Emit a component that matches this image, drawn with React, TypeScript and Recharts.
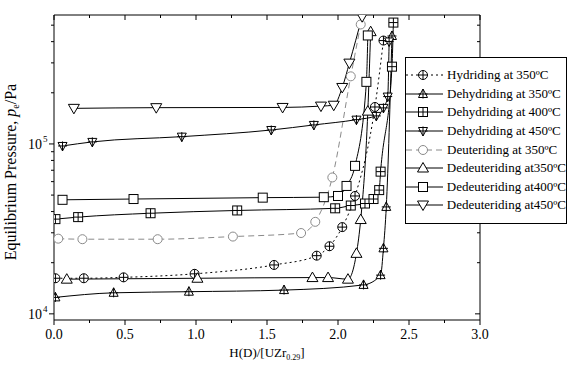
import React from 'react';
import { LineChart, Line, XAxis, YAxis, Legend } from 'recharts';

// ---- data ----
const hyd350X = [0.01, 0.21, 0.49, 0.99, 1.55, 1.85, 1.94, 2.03, 2.12, 2.26, 2.32];
const hyd350P = [16200, 16200, 16400, 17200, 19400, 22000, 25000, 32400, 49400, 165000, 406000];

const dehyd350X = [0.01, 0.42, 0.95, 1.62, 2.18, 2.30, 2.32, 2.34, 2.38];
const dehyd350P = [12500, 13300, 13500, 13800, 14800, 16900, 24300, 42600, 432000];

const dehyd400X = [0.01, 0.17, 0.68, 1.29, 1.98, 2.09, 2.19, 2.25, 2.29, 2.30, 2.38, 2.39];
const dehyd400P = [36100, 37100, 39100, 40600, 41800, 43400, 44600, 47400, 53500, 68700, 285000, 518000];

const dehyd450X = [0.06, 0.27, 0.90, 1.53, 1.83, 2.13, 2.27, 2.32, 2.35, 2.36];
const dehyd450P = [97300, 102800, 110400, 120800, 129400, 139000, 146200, 163000, 190000, 401000];

const deut350X = [0.03, 0.20, 0.73, 1.26, 1.74, 1.84, 1.96, 2.09, 2.16];
const deut350P = [27700, 27500, 27500, 28500, 29900, 34800, 63500, 250000, 505000];

const dedeut350X = [0.09, 1.01, 1.82, 1.93, 2.07, 2.13, 2.16, 2.21, 2.23];
const dedeut350P = [16000, 16200, 16350, 16350, 16000, 22700, 35900, 156000, 458000];

const dedeut400X = [0.06, 0.56, 1.47, 1.90, 2.00, 2.06, 2.12, 2.20, 2.21];
const dedeut400P = [46900, 47400, 48300, 48600, 49400, 56600, 74300, 232000, 435000];

const dedeut450X = [0.14, 0.72, 1.61, 1.88, 1.97, 2.03, 2.08, 2.17];
const dedeut450P = [162000, 163500, 164000, 167000, 169000, 215000, 299000, 561000];

const xTicks = [0, 0.25, 0.5, 0.75, 1, 1.25, 1.5, 1.75, 2, 2.25, 2.5, 2.75, 3];
const yTicks = [10000, 20000, 30000, 40000, 50000, 60000, 70000, 80000, 90000, 100000, 200000, 300000, 400000, 500000];
const yDomain: [number, number] = [9200, 574000];

const FONT = 'Liberation Serif, Times New Roman, serif';

type Shape = 'circlePlus' | 'triUpPlus' | 'squarePlus' | 'triDownPlus' | 'circle' | 'triUp' | 'square' | 'triDown';

const seriesList = [
  { name: 'Hydriding at 350ºC', xs: hyd350X, ps: hyd350P, shape: 'circlePlus' as Shape, color: '#000', dash: '2 3' },
  { name: 'Dehydriding at 350ºC', xs: dehyd350X, ps: dehyd350P, shape: 'triUpPlus' as Shape, color: '#000', dash: undefined },
  { name: 'Dehydriding at 400ºC', xs: dehyd400X, ps: dehyd400P, shape: 'squarePlus' as Shape, color: '#000', dash: undefined },
  { name: 'Dehydriding at 450ºC', xs: dehyd450X, ps: dehyd450P, shape: 'triDownPlus' as Shape, color: '#000', dash: undefined },
  { name: 'Deuteriding at 350ºC', xs: deut350X, ps: deut350P, shape: 'circle' as Shape, color: '#8a8a8a', dash: '6 4' },
  { name: 'Dedeuteriding at350ºC', xs: dedeut350X, ps: dedeut350P, shape: 'triUp' as Shape, color: '#000', dash: undefined },
  { name: 'Dedeuteriding at400ºC', xs: dedeut400X, ps: dedeut400P, shape: 'square' as Shape, color: '#000', dash: undefined },
  { name: 'Dedeuteriding at450ºC', xs: dedeut450X, ps: dedeut450P, shape: 'triDown' as Shape, color: '#000', dash: undefined },
];

function Marker({ cx, cy, shape, color }: { cx: number; cy: number; shape: Shape; color: string }) {
  const sw = 1;
  switch (shape) {
    case 'circle':
      return <circle cx={cx} cy={cy} r={4.5} fill="#fff" stroke={color} strokeWidth={sw} />;
    case 'circlePlus':
      return (
        <g stroke={color} strokeWidth={sw}>
          <circle cx={cx} cy={cy} r={4.5} fill="#fff" />
          <line x1={cx - 4.5} x2={cx + 4.5} y1={cy} y2={cy} />
          <line x1={cx} x2={cx} y1={cy - 4.5} y2={cy + 4.5} />
        </g>
      );
    case 'square':
      return <rect x={cx - 4.5} y={cy - 4.5} width={9} height={9} fill="#fff" stroke={color} strokeWidth={sw} />;
    case 'squarePlus':
      return (
        <g stroke={color} strokeWidth={sw}>
          <rect x={cx - 4.5} y={cy - 4.5} width={9} height={9} fill="#fff" />
          <line x1={cx - 4.5} x2={cx + 4.5} y1={cy} y2={cy} />
          <line x1={cx} x2={cx} y1={cy - 4.5} y2={cy + 4.5} />
        </g>
      );
    case 'triUp':
      return <polygon points={`${cx},${cy - 5.5} ${cx - 5.5},${cy + 4} ${cx + 5.5},${cy + 4}`} fill="#fff" stroke={color} strokeWidth={sw} />;
    case 'triUpPlus':
      return (
        <g stroke={color} strokeWidth={sw}>
          <polygon points={`${cx},${cy - 5} ${cx - 4.5},${cy + 3.5} ${cx + 4.5},${cy + 3.5}`} fill="#fff" />
          <line x1={cx - 4.5} x2={cx + 4.5} y1={cy} y2={cy} />
          <line x1={cx} x2={cx} y1={cy - 5} y2={cy + 4.5} />
        </g>
      );
    case 'triDown':
      return <polygon points={`${cx},${cy + 5.5} ${cx - 5.5},${cy - 4} ${cx + 5.5},${cy - 4}`} fill="#fff" stroke={color} strokeWidth={sw} />;
    case 'triDownPlus':
      return (
        <g stroke={color} strokeWidth={sw}>
          <polygon points={`${cx},${cy + 5} ${cx - 4.5},${cy - 3.5} ${cx + 4.5},${cy - 3.5}`} fill="#fff" />
          <line x1={cx - 4.5} x2={cx + 4.5} y1={cy} y2={cy} />
          <line x1={cx} x2={cx} y1={cy - 4.5} y2={cy + 5} />
        </g>
      );
  }
  return null;
}

const isMajorX = (v: number) => Math.abs(v * 2 - Math.round(v * 2)) < 1e-6;
const isMajorY = (v: number) => {
  const e = Math.log10(v);
  return Math.abs(e - Math.round(e)) < 1e-6;
};

const XTickBottom = (props: any) => {
  const { x, y, payload } = props;
  const v = payload.value as number;
  const major = isMajorX(v);
  return (
    <g>
      <line x1={x} x2={x} y1={y} y2={y + (major ? 5 : 3)} stroke="#000" />
      {major && (
        <text x={x} y={y + 19} textAnchor="middle" fontSize={14} fontFamily={FONT} fill="#000">
          {v.toFixed(1)}
        </text>
      )}
    </g>
  );
};

const XTickTop = (props: any) => {
  const { x, y, payload } = props;
  const major = isMajorX(payload.value);
  return <line x1={x} x2={x} y1={y} y2={y + (major ? 5 : 3)} stroke="#000" />;
};

const YTickLeft = (props: any) => {
  const { x, y, payload } = props;
  const v = payload.value as number;
  const major = isMajorY(v);
  const e = Math.round(Math.log10(v));
  return (
    <g>
      <line x1={x} x2={x - (major ? 5 : 3)} y1={y} y2={y} stroke="#000" />
      {major && (
        <text x={x - 12} y={y + 5} textAnchor="end" fontSize={14} fontFamily={FONT} fill="#000">
          10
        </text>
      )}
      {major && (
        <text x={x - 11} y={y - 2} textAnchor="start" fontSize={9} fontFamily={FONT} fill="#000">
          {e}
        </text>
      )}
    </g>
  );
};

const YTickRight = (props: any) => {
  const { x, y, payload } = props;
  const major = isMajorY(payload.value);
  return <line x1={x} x2={x - (major ? 5 : 3)} y1={y} y2={y} stroke="#000" />;
};

const YLabel = () => (
  <text transform="translate(16,172) rotate(-90)" textAnchor="middle" fontSize={16} fontFamily={FONT} fill="#000">
    Equilibrium Pressure, <tspan fontStyle="italic">p</tspan>
    <tspan fontSize={10} dy={3}>e</tspan>
    <tspan dy={-3}>/Pa</tspan>
  </text>
);

const XLabel = () => (
  <text x={267} y={357} textAnchor="middle" fontSize={13} fontFamily={FONT} fill="#000">
    H(D)/[UZr<tspan fontSize={8} dy={3}>0.29</tspan>
    <tspan dy={-3}>]</tspan>
  </text>
);

const LegendBox = () => (
  <div
    style={{
      border: '1px solid #000',
      background: '#fff',
      width: 162,
      height: 167,
      boxSizing: 'border-box',
      paddingTop: 8,
      fontFamily: FONT,
      fontSize: 13,
      color: '#000',
    }}
  >
    {seriesList.map((s) => (
      <div key={s.name} style={{ display: 'flex', alignItems: 'center', height: 18.6, whiteSpace: 'nowrap' }}>
        <svg width={40} height={14} style={{ display: 'block' }}>
          <line x1={0} x2={37} y1={7} y2={7} stroke={s.color} strokeDasharray={s.dash} />
          <Marker cx={17} cy={7} shape={s.shape} color={s.color} />
        </svg>
        <span style={{ marginLeft: 1 }}>{s.name}</span>
      </div>
    ))}
  </div>
);

export default function App() {
  const datasets = seriesList.map((s) => s.xs.map((x, i) => ({ x, p: s.ps[i] })));
  return (
    <div style={{ position: 'absolute', left: 0, top: 0, width: 570, height: 366, background: '#fff' }}>
      <LineChart width={570} height={366} margin={{ top: 0, right: 0, bottom: 0, left: 0 }}>
        <XAxis
          xAxisId="bottom"
          dataKey="x"
          type="number"
          domain={[0, 3]}
          ticks={xTicks}
          interval={0}
          height={46}
          tickSize={0}
          tickMargin={0}
          tick={<XTickBottom />}
          axisLine={{ stroke: '#000' }}
          allowDataOverflow
          label={<XLabel />}
        />
        <XAxis
          xAxisId="top"
          orientation="top"
          dataKey="x"
          type="number"
          domain={[0, 3]}
          ticks={xTicks}
          interval={0}
          height={15}
          tickSize={0}
          tickMargin={0}
          tick={<XTickTop />}
          axisLine={{ stroke: '#000' }}
          allowDataOverflow
        />
        <YAxis
          yAxisId="left"
          type="number"
          scale="log"
          domain={yDomain}
          ticks={yTicks}
          interval={0}
          width={54}
          tickSize={0}
          tickMargin={0}
          tick={<YTickLeft />}
          axisLine={{ stroke: '#000' }}
          allowDataOverflow
          label={<YLabel />}
        />
        <YAxis
          yAxisId="right"
          orientation="right"
          type="number"
          scale="log"
          domain={yDomain}
          ticks={yTicks}
          interval={0}
          width={90}
          tickSize={0}
          tickMargin={0}
          tick={<YTickRight />}
          axisLine={{ stroke: '#000' }}
          allowDataOverflow
        />
        {seriesList.map((s, si) => (
          <Line
            key={s.name}
            xAxisId="bottom"
            yAxisId="left"
            data={datasets[si]}
            dataKey="p"
            name={s.name}
            type="monotone"
            stroke={s.color}
            strokeWidth={1}
            strokeDasharray={s.dash}
            isAnimationActive={false}
            dot={(p: any) => <Marker key={`${s.name}-${p.index}`} cx={p.cx} cy={p.cy} shape={s.shape} color={s.color} />}
            activeDot={false}
          />
        ))}
        <Legend
          layout="vertical"
          align="center"
          verticalAlign="middle"
          content={<LegendBox />}
          wrapperStyle={{ left: 405, top: 57, width: 162, height: 167 }}
        />
      </LineChart>
    </div>
  );
}
